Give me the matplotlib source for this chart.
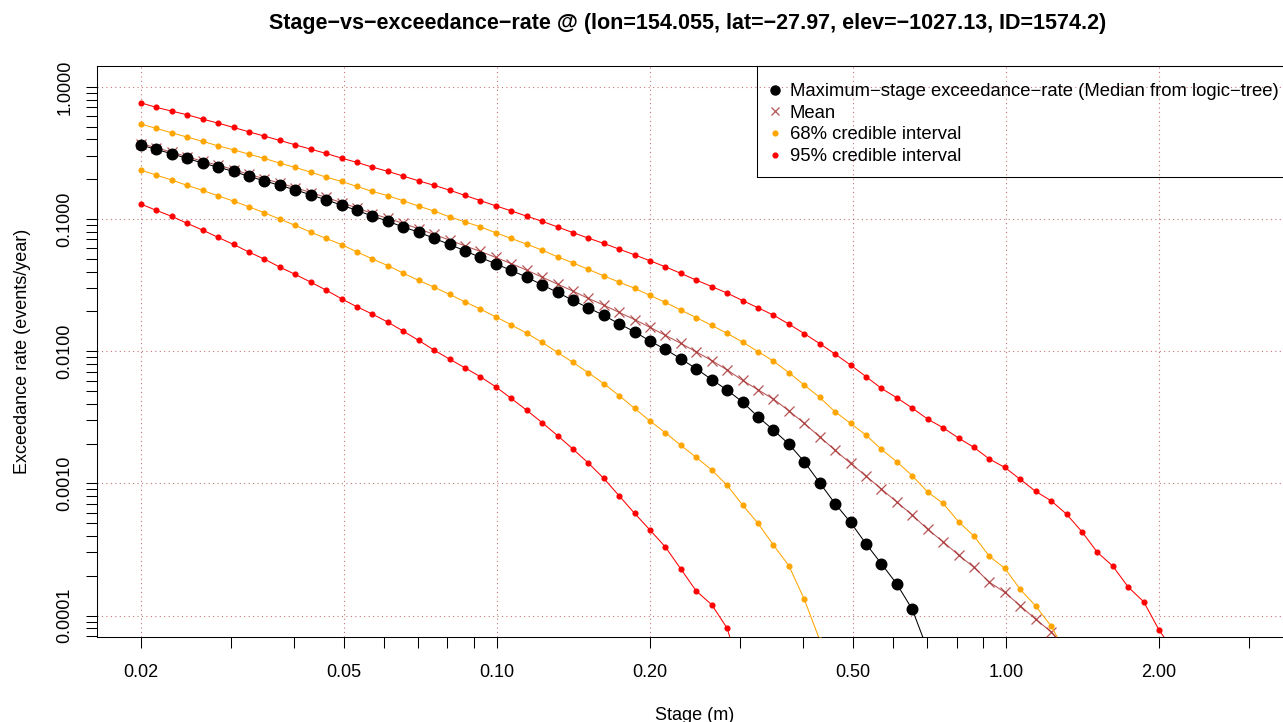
import matplotlib
matplotlib.use("Agg")
import matplotlib.pyplot as plt
from matplotlib.patches import Rectangle
from matplotlib.ticker import FixedLocator, FixedFormatter, NullFormatter

plt.rcParams['font.family'] = ['Liberation Sans', 'DejaVu Sans']

# Stage grid (m), log-spaced from 0.02 m
stage = [0.02, 0.02145, 0.02300, 0.02466, 0.02644, 0.02835, 0.03040, 0.03259,
         0.03495, 0.03748, 0.04018, 0.04309, 0.04620, 0.04954, 0.05312, 0.05696,
         0.06107, 0.06549, 0.07022, 0.07530, 0.08074, 0.08657, 0.09283, 0.09953,
         0.1067, 0.1144, 0.1227, 0.1316, 0.1411, 0.1513, 0.1622, 0.1739,
         0.1865, 0.2000, 0.2144, 0.2299, 0.2465, 0.2644, 0.2835, 0.3040,
         0.3259, 0.3495, 0.3747, 0.4018, 0.4308, 0.4620, 0.4954, 0.5311,
         0.5695, 0.6107, 0.6548, 0.7021, 0.7529, 0.8073, 0.8656, 0.9282,
         0.9952, 1.0672, 1.1443, 1.2270, 1.3156, 1.4107, 1.5126, 1.6220,
         1.7392, 1.8648, 1.9996, 2.1441]

# Median exceedance-rate from the logic-tree (events/year)
rate_median = [0.3622, 0.3361, 0.3113, 0.2873, 0.2648, 0.2469, 0.2291, 0.2101,
               0.1945, 0.1795, 0.1663, 0.1524, 0.1397, 0.1274, 0.1162, 0.1052,
               0.09640, 0.08686, 0.07962, 0.07134, 0.06425, 0.05747, 0.05123, 0.04583,
               0.04087, 0.03635, 0.03179, 0.02785, 0.02423, 0.02130, 0.01866, 0.01612,
               0.01402, 0.01193, 0.01032, 0.008761, 0.007360, 0.006098, 0.005077, 0.004121,
               0.003190, 0.002530, 0.001983, 0.001457, 0.001010, 0.0007010, 0.0005070, 0.0003492,
               0.0002464, 0.0001731, 0.0001114, 0.0000548]

# Mean exceedance-rate
rate_mean = [0.3718, 0.3456, 0.3206, 0.2960, 0.2732, 0.2553, 0.2368, 0.2175,
             0.2017, 0.1866, 0.1728, 0.1586, 0.1457, 0.1330, 0.1213, 0.1100,
             0.1010, 0.09262, 0.08430, 0.07646, 0.06926, 0.06270, 0.05687, 0.05123,
             0.04599, 0.04107, 0.03635, 0.03218, 0.02849, 0.02508, 0.02232, 0.01966,
             0.01734, 0.01514, 0.01317, 0.01146, 0.009897, 0.008489, 0.007219, 0.006013,
             0.005105, 0.004342, 0.003540, 0.002844, 0.002252, 0.001777, 0.001417, 0.001136,
             0.0009056, 0.0007220, 0.0005756, 0.0004487, 0.0003616, 0.0002868, 0.0002315, 0.0001786,
             0.0001498, 0.0001186, 0.00009361, 0.00007541, 0.00005483]

# 68% credible interval bounds (16th / 84th percentiles)
rate_p84 = [0.5223, 0.4845, 0.4487, 0.4164, 0.3864, 0.3578, 0.3338, 0.3097,
            0.2873, 0.2648, 0.2456, 0.2263, 0.2075, 0.1925, 0.1764, 0.1617,
            0.1503, 0.1373, 0.1252, 0.1148, 0.1039, 0.09523, 0.08730, 0.07863,
            0.07134, 0.06458, 0.05816, 0.05176, 0.04662, 0.04157, 0.03712, 0.03332,
            0.02990, 0.02643, 0.02339, 0.02046, 0.01795, 0.01567, 0.01363, 0.01172,
            0.009931, 0.008415, 0.006887, 0.005540, 0.004472, 0.003479, 0.002844, 0.002319,
            0.001808, 0.001457, 0.001142, 0.0008595, 0.0007059, 0.0005123, 0.0003994, 0.0002804,
            0.0002275, 0.0001578, 0.0001180, 0.00008329, 0.00005114]
rate_p16 = [0.2344, 0.2148, 0.1969, 0.1795, 0.1646, 0.1498, 0.1366, 0.1237,
            0.1114, 0.09982, 0.08946, 0.07962, 0.07134, 0.06403, 0.05638, 0.04991,
            0.04441, 0.03898, 0.03433, 0.03054, 0.02690, 0.02364, 0.02082, 0.01820,
            0.01584, 0.01370, 0.01166, 0.009793, 0.008228, 0.006864, 0.005686, 0.004613,
            0.003693, 0.002960, 0.002414, 0.001938, 0.001573, 0.001261, 0.0009658, 0.0006853,
            0.0004983, 0.0003414, 0.0002380, 0.0001326, 0.00006529]

# 95% credible interval bounds (2.5th / 97.5th percentiles)
rate_p975 = [0.7568, 0.6985, 0.6549, 0.6141, 0.5697, 0.5314, 0.4931, 0.4566,
             0.4237, 0.3932, 0.3641, 0.3378, 0.3134, 0.2888, 0.2681, 0.2469,
             0.2295, 0.2112, 0.1945, 0.1798, 0.1654, 0.1509, 0.1378, 0.1258,
             0.1153, 0.1052, 0.09607, 0.08713, 0.07888, 0.07170, 0.06537, 0.05921,
             0.05360, 0.04828, 0.04349, 0.03877, 0.03450, 0.03082, 0.02751, 0.02414,
             0.02130, 0.01875, 0.01603, 0.01358, 0.01141, 0.009508, 0.007851, 0.006426,
             0.005231, 0.004441, 0.003712, 0.003065, 0.002634, 0.002202, 0.001872, 0.001527,
             0.001321, 0.001072, 0.0008700, 0.0007385, 0.0005858, 0.0004303, 0.0003007, 0.0002367,
             0.0001642, 0.0001272, 0.00007770, 0.00005296]
rate_p025 = [0.1296, 0.1162, 0.1046, 0.09262, 0.08241, 0.07258, 0.06425, 0.05619,
             0.04973, 0.04326, 0.03810, 0.03332, 0.02899, 0.02491, 0.02167, 0.01908,
             0.01660, 0.01419, 0.01207, 0.01019, 0.008715, 0.007488, 0.006404, 0.005378,
             0.004395, 0.003583, 0.002884, 0.002299, 0.001818, 0.001424, 0.001091, 0.0008056,
             0.0005930, 0.0004432, 0.0003297, 0.0002247, 0.0001532, 0.0001207, 0.00008004, 0.00003252]

x_major = [0.02, 0.05, 0.1, 0.2, 0.5, 1.0, 2.0]
x_major_labels = ['0.02', '0.05', '0.10', '0.20', '0.50', '1.00', '2.00']
x_minor = [0.03, 0.04, 0.06, 0.07, 0.08, 0.09, 0.3, 0.4, 0.6, 0.7, 0.8, 0.9, 3.0]
y_major = [1e-4, 1e-3, 1e-2, 1e-1, 1.0]
y_major_labels = ['0.0001', '0.0010', '0.0100', '0.1000', '1.0000']
y_minor = [k * 10.0 ** d for d in range(-5, 1) for k in range(2, 10)]

title = ("Stage\u2212vs\u2212exceedance\u2212rate @ (lon=154.055, lat=\u221227.97, "
         "elev=\u22121027.13, ID=1574.2)")
legend_labels = ["Maximum\u2212stage exceedance\u2212rate (Median from logic\u2212tree)",
                 "Mean", "68% credible interval", "95% credible interval"]

FS = 13.0
W, H = 1283, 722
fig = plt.figure(figsize=(W / 100, H / 100), dpi=100)
# plot region in pixels: left 96.7, right 1293 (past the page edge), top 65.7, bottom 636.7
ax = fig.add_axes([96.7 / W, (H - 636.7) / H, (1293 - 96.7) / W, (636.7 - 65.7) / H])
ax.set_xscale('log')
ax.set_yscale('log')
ax.set_xlim(10 ** -1.786, 10 ** 0.564)
ax.set_ylim(10 ** -4.16, 10 ** 0.16)

lw = 0.75
ax.plot(stage[:len(rate_mean)], rate_mean, color='#A52A2A', lw=lw, marker='x',
        ms=6.5, mew=0.9, alpha=0.8, zorder=3)
ax.plot(stage[:len(rate_median)], rate_median, color='black', lw=lw, marker='o',
        ms=7.6, zorder=4)
ax.plot(stage[:len(rate_p84)], rate_p84, color='orange', lw=lw, marker='o', ms=3.4, zorder=3)
ax.plot(stage[:len(rate_p16)], rate_p16, color='orange', lw=lw, marker='o', ms=3.4, zorder=3)
ax.plot(stage[:len(rate_p975)], rate_p975, color='red', lw=lw, marker='o', ms=3.4, zorder=3)
ax.plot(stage[:len(rate_p025)], rate_p025, color='red', lw=lw, marker='o', ms=3.4, zorder=3)

grid_kw = dict(color='#B04848', lw=0.8, linestyle=(0, (1, 3)), alpha=0.75, zorder=1)
for xv in x_major:
    ax.axvline(xv, **grid_kw)
for yv in y_major:
    ax.axhline(yv, **grid_kw)

ax.xaxis.set_major_locator(FixedLocator(x_major))
ax.xaxis.set_major_formatter(FixedFormatter(x_major_labels))
ax.xaxis.set_minor_locator(FixedLocator(x_minor))
ax.xaxis.set_minor_formatter(NullFormatter())
ax.yaxis.set_major_locator(FixedLocator(y_major))
ax.yaxis.set_major_formatter(FixedFormatter(y_major_labels))
ax.yaxis.set_minor_locator(FixedLocator(y_minor))
ax.yaxis.set_minor_formatter(NullFormatter())

ax.tick_params(axis='both', which='both', length=7.9, width=0.75,
               color='black', direction='out')
ax.tick_params(axis='x', which='major', labelsize=FS, pad=11.8)
ax.tick_params(axis='y', which='major', labelsize=FS, pad=8.7)
for lab in ax.get_yticklabels():
    lab.set_rotation(90)
    lab.set_va('center')
    lab.set_ha('right')

for sp in ax.spines.values():
    sp.set_linewidth(0.75)
    sp.set_color('black')

ax.set_xlabel('Stage (m)', fontsize=FS, labelpad=19)
ax.set_ylabel('Exceedance rate (events/year)', fontsize=FS, labelpad=18.5)
ax.set_title(title, fontsize=15.5, fontweight='bold', pad=26.2, x=0.4943)

# legend
handles = [
    plt.Line2D([], [], ls='none', marker='o', color='black', ms=6.5),
    plt.Line2D([], [], ls='none', marker='x', color='#A52A2A', ms=6, mew=0.9, alpha=0.8),
    plt.Line2D([], [], ls='none', marker='o', color='orange', ms=3.4),
    plt.Line2D([], [], ls='none', marker='o', color='red', ms=3.4),
]
fig.legend(handles, legend_labels, loc='upper left',
           bbox_to_anchor=(757 / W, 1 - 77.5 / H), frameon=False,
           fontsize=13.3, handlelength=1.34, handletextpad=0.14,
           labelspacing=0.255, borderpad=0.3, borderaxespad=0)
frame = Rectangle((757 / W, 1 - 177 / H), (1295 - 757) / W, (177 - 65.7) / H,
                  transform=fig.transFigure, fill=False, edgecolor='black',
                  lw=0.75, zorder=5)
fig.add_artist(frame)

fig.savefig('out.png', dpi=100, facecolor='white')
